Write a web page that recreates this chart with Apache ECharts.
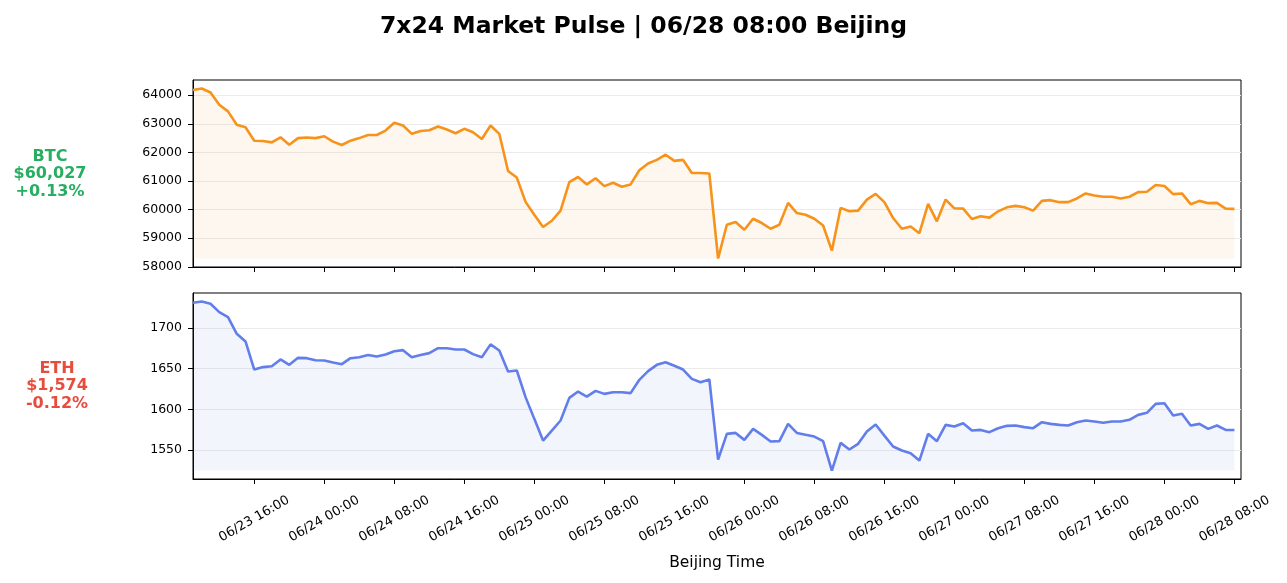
<!DOCTYPE html>
<html>
<head>
<meta charset="utf-8">
<title>7x24 Market Pulse</title>
<script src="https://cdn.jsdelivr.net/npm/echarts@6/dist/echarts.min.js"></script>
<style>
  html, body { margin: 0; padding: 0; background: #fff; }
  #main { width: 1287px; height: 583px; }
</style>
</head>
<body>
<div id="main"></div>
<script>
// hourly closes, 06/23 09:00 -> 06/28 08:00 (Beijing)
var startHour = 9; // hours after 06/23 00:00
var btcPrices = [64180,64235,64094,63670,63435,62965,62880,62410,62400,62350,
  62530,62270,62500,62520,62500,62565,62376,62260,62410,62500,
  62610,62610,62765,63035,62940,62650,62750,62775,62905,62800,
  62670,62825,62705,62470,62940,62650,61350,61120,60270,59820,
  59390,59610,59965,60965,61140,60880,61095,60820,60940,60800,
  60880,61375,61610,61740,61920,61705,61740,61280,61280,61260,
  58290,59470,59565,59295,59680,59530,59330,59470,60235,59880,
  59820,59680,59445,58565,60060,59940,59965,60350,60550,60260,
  59705,59330,59410,59175,60200,59590,60350,60045,60035,59670,
  59765,59720,59940,60080,60130,60080,59965,60305,60330,60260,
  60260,60390,60565,60495,60450,60450,60390,60450,60610,60625,
  60860,60825,60540,60565,60190,60305,60225,60235,60035,60027];
var ethPrices = [1731.2,1732.9,1730,1719.7,1713.6,1693,1683.6,1649,1652,1653,
  1661.4,1654.8,1663.4,1663,1660.5,1660.1,1657.7,1655.6,1663,1664.2,
  1667,1665,1667.5,1671.6,1672.9,1664.2,1667,1669.2,1675.3,1675.3,
  1673.7,1673.7,1668,1664.2,1680,1672.5,1646.6,1647.8,1615,1588.2,
  1561.5,1573.8,1586.2,1614.1,1621.9,1615.7,1622.7,1619,1621,1621,
  1619.9,1636.3,1647,1654.8,1658,1653.6,1649,1637.5,1633.4,1636.7,
  1538,1569.7,1570.9,1562.3,1575.9,1568.5,1560.3,1560.7,1582,1570.9,
  1568.5,1566.4,1560.7,1524.5,1558.6,1550.4,1557.4,1572.6,1581.2,1567.6,
  1554.1,1549.2,1545.9,1536.8,1569.7,1560.7,1580.8,1578.8,1582.9,1573.8,
  1574.6,1571.8,1576.7,1579.6,1580,1578,1576.7,1584.1,1582,1580.8,
  1580,1584.1,1586.2,1585,1583.3,1585,1585,1587,1593.1,1595.6,
  1606.7,1607.5,1592.3,1594.4,1580,1582,1575.9,1580,1574.6,1574.4];

var xTicks = [16,24,32,40,48,56,64,72,80,88,96,104,112,120,128];
var btcTicks = [58000,59000,60000,61000,62000,63000,64000];
var ethTicks = [1550,1600,1650,1700];

var btcInfo = ['BTC', '$60,027', '+0.13%'];
var ethInfo = ['ETH', '$1,574', '-0.12%'];

var FONT = 'DejaVu Sans';

function pairs(arr) {
  return arr.map(function (v, i) { return [startHour + i, v]; });
}
function pad(n) { return n < 10 ? '0' + n : '' + n; }
function hourLabel(h) {
  var day = 23 + Math.floor(h / 24);
  return '06/' + pad(day) + ' ' + pad(h % 24) + ':00';
}
// matplotlib style 5% margins
function pad5(arr) {
  var lo = Math.min.apply(null, arr), hi = Math.max.apply(null, arr);
  var m = (hi - lo) * 0.05;
  return [lo - m, hi + m];
}

var btcRange = pad5(btcPrices);
var ethRange = pad5(ethPrices);

function yAxis(idx, range, ticks) {
  return {
    type: 'value', gridIndex: idx,
    min: range[0], max: range[1],
    axisLine: { show: true, lineStyle: { color: '#000', width: 1 } },
    axisTick: { show: true, length: 5, lineStyle: { color: '#000' }, customValues: ticks },
    axisLabel: {
      color: '#000', fontFamily: FONT, fontSize: 12.5, margin: 11, customValues: ticks,
      formatter: function (v) { return String(v); }
    },
    splitLine: { show: true, lineStyle: { color: '#ebebeb', width: 1 } }
  };
}
function xAxis(idx, showLabel) {
  return {
    type: 'value', gridIndex: idx,
    min: startHour, max: 128.75,
    axisLine: { show: true, onZero: false, lineStyle: { color: '#000', width: 1 } },
    axisTick: { show: true, length: 5, lineStyle: { color: '#000' }, customValues: xTicks },
    axisLabel: {
      show: showLabel, customValues: xTicks, rotate: 30,
      align: 'center', verticalAlign: 'middle', margin: 40,
      color: '#000', fontFamily: FONT, fontSize: 13,
      formatter: function (v) { return hourLabel(v); }
    },
    splitLine: { show: false }
  };
}
function lineSeries(idx, arr, color, fill) {
  return {
    type: 'line', xAxisIndex: idx, yAxisIndex: idx,
    data: pairs(arr), showSymbol: false, symbol: 'none',
    lineStyle: { color: color, width: 2.6 },
    areaStyle: { color: fill, origin: Math.min.apply(null, arr) },
    silent: true, animation: false
  };
}

var myChart = echarts.init(document.getElementById('main'), null, { renderer: 'canvas' });

var option = {
  backgroundColor: '#fff',
  animation: false,
  title: {
    text: '7x24 Market Pulse | 06/28 08:00 Beijing',
    left: 'center', top: 10,
    textStyle: { fontFamily: FONT, fontSize: 23.5, fontWeight: 'bold', color: '#000' }
  },
  grid: [
    { left: 193, right: 46, top: 80, height: 187, show: true, borderColor: '#000', borderWidth: 1, backgroundColor: 'transparent' },
    { left: 193, right: 46, top: 293, height: 186, show: true, borderColor: '#000', borderWidth: 1, backgroundColor: 'transparent' }
  ],
  xAxis: [xAxis(0, false), xAxis(1, true)],
  yAxis: [yAxis(0, btcRange, btcTicks), yAxis(1, ethRange, ethTicks)],
  series: [
    lineSeries(0, btcPrices, '#f7931a', 'rgba(247,147,26,0.1)'),
    lineSeries(1, ethPrices, '#627eea', 'rgba(98,126,234,0.11)')
  ],
  graphic: [
    { type: 'text', x: 50, y: 174, z: 10,
      style: { text: btcInfo.join('\n'), fill: '#27ae60', font: 'bold 16px "DejaVu Sans"', lineHeight: 17.5, align: 'center', verticalAlign: 'middle' } },
    { type: 'text', x: 57, y: 386, z: 10,
      style: { text: ethInfo.join('\n'), fill: '#e74c3c', font: 'bold 16px "DejaVu Sans"', lineHeight: 17.5, align: 'center', verticalAlign: 'middle' } },
    { type: 'text', x: 717, y: 563, z: 10,
      style: { text: 'Beijing Time', fill: '#000', font: '15.5px "DejaVu Sans"', align: 'center', verticalAlign: 'middle' } }
  ]
};

myChart.setOption(option);
</script>
</body>
</html>
